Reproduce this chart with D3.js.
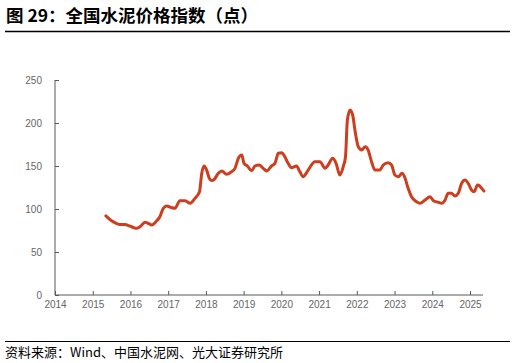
<!DOCTYPE html>
<html><head><meta charset="utf-8">
<script src="https://cdn.jsdelivr.net/npm/d3@7"></script>
<style>body{margin:0;background:#fff}svg{display:block}</style>
</head><body>
<script>
const title = "图 29：全国水泥价格指数（点）";
const source = "资料来源：Wind、中国水泥网、光大证券研究所";
const yTicks = [0, 50, 100, 150, 200, 250];
const xTicks = [2014,2015,2016,2017,2018,2019,2020,2021,2022,2023,2024,2025];
const dates = [2015.35,2015.45,2015.55,2015.64,2015.72,2015.85,2015.99,2016.08,2016.16,2016.25,2016.39,2016.47,2016.56,2016.69,2016.78,2016.87,2016.96,2017.09,2017.18,2017.31,2017.45,2017.58,2017.71,2017.83,2017.89,2017.95,2018.02,2018.09,2018.15,2018.21,2018.33,2018.42,2018.55,2018.68,2018.77,2018.86,2018.95,2019.01,2019.10,2019.21,2019.30,2019.41,2019.52,2019.61,2019.74,2019.83,2019.92,2020.01,2020.10,2020.18,2020.27,2020.40,2020.49,2020.58,2020.71,2020.89,2021.02,2021.16,2021.24,2021.36,2021.45,2021.55,2021.64,2021.70,2021.75,2021.82,2021.89,2021.95,2022.04,2022.13,2022.22,2022.30,2022.39,2022.48,2022.61,2022.70,2022.83,2022.92,2023.01,2023.10,2023.20,2023.28,2023.36,2023.45,2023.58,2023.67,2023.81,2023.94,2024.03,2024.16,2024.25,2024.34,2024.42,2024.51,2024.60,2024.69,2024.78,2024.87,2024.95,2025.04,2025.11,2025.20,2025.26,2025.31,2025.37];
const values = [92,88,85,83,82,82,80,78.5,77.5,79.4,84.5,83.4,81.4,86,91,100.8,103.5,101.5,100.8,109.7,109.7,106.6,112.4,120.1,141.5,150,145.3,135.7,133,134,141.5,144.2,140.3,143.4,147.3,159,162.8,153.1,150,144.5,150,151.2,147.3,144.2,150,153.1,164.8,165.5,160.1,153.1,148,150,143.4,137.6,145.3,155,155,147.3,151.2,159,153.1,139.5,149.2,160.8,203.5,215,209.3,191.9,172.4,168.6,172.4,168.6,155,145.3,145.3,151.2,153.9,151.2,139.5,137.6,141.5,135.7,124,114.3,108.5,106.6,110.5,114.3,109.7,107.8,106.6,110.5,118.3,118.3,115.1,118.3,129.9,133.7,129.9,122.1,120.1,127.9,126.7,124,120.9];

const W = 516, H = 363;
const svg = d3.select("body").append("svg").attr("width", W).attr("height", H);
const font = "'Noto Sans CJK SC','Noto Sans',sans-serif";

svg.append("text").attr("x", 6).attr("y", 22).attr("font-family", font)
  .attr("font-size", 17.5).attr("font-weight", "bold").attr("fill", "#000").text(title);
svg.append("line").attr("x1", 5).attr("x2", 510).attr("y1", 31.5).attr("y2", 31.5)
  .attr("stroke", "#000").attr("stroke-width", 1.5);
svg.append("line").attr("x1", 5).attr("x2", 510).attr("y1", 341.5).attr("y2", 341.5)
  .attr("stroke", "#000").attr("stroke-width", 1);
svg.append("text").attr("x", 5).attr("y", 357).attr("font-family", font)
  .attr("font-size", 13).attr("fill", "#000").text(source);

const x0 = 55, xEnd = 483;
const x = d3.scaleLinear().domain([2014, 2014 + (xEnd - x0) / (415 / 11)]).range([x0, xEnd]);
const y = d3.scaleLinear().domain([0, 250]).range([295, 80]);

const tickFont = "'Liberation Sans','Helvetica',sans-serif";
const yAxis = svg.append("g").attr("transform", `translate(${x0},0)`)
  .call(d3.axisRight(y).tickValues(yTicks).tickSize(4).tickFormat(d3.format("d")));
yAxis.select(".domain").attr("stroke", "#595959").attr("d", `M0,${y(250)}V${y(0)}`);
yAxis.selectAll(".tick line").attr("stroke", "#595959");
yAxis.selectAll(".tick text").attr("x", -13).attr("text-anchor", "end")
  .attr("font-family", tickFont).attr("font-size", 10).attr("fill", "#666");

const xAxis = svg.append("g").attr("transform", `translate(0,${y(0)})`)
  .call(d3.axisTop(x).tickValues(xTicks).tickSize(4).tickFormat(d3.format("d")));
xAxis.select(".domain").attr("stroke", "#595959").attr("d", `M${x0},0H${xEnd}`);
xAxis.selectAll(".tick line").attr("stroke", "#595959");
xAxis.selectAll(".tick text").attr("y", 13).attr("dy", "0").attr("font-family", tickFont)
  .attr("font-size", 10).attr("fill", "#666");

const pts = dates.map((d, i) => [d, values[i]]);
svg.append("path").datum(pts)
  .attr("fill", "none").attr("stroke", "#cc3e1e").attr("stroke-width", 3)
  .attr("stroke-linejoin", "round").attr("stroke-linecap", "round")
  .attr("d", d3.line().x(d => x(d[0])).y(d => y(d[1])).curve(d3.curveMonotoneX));
</script>
</body></html>
